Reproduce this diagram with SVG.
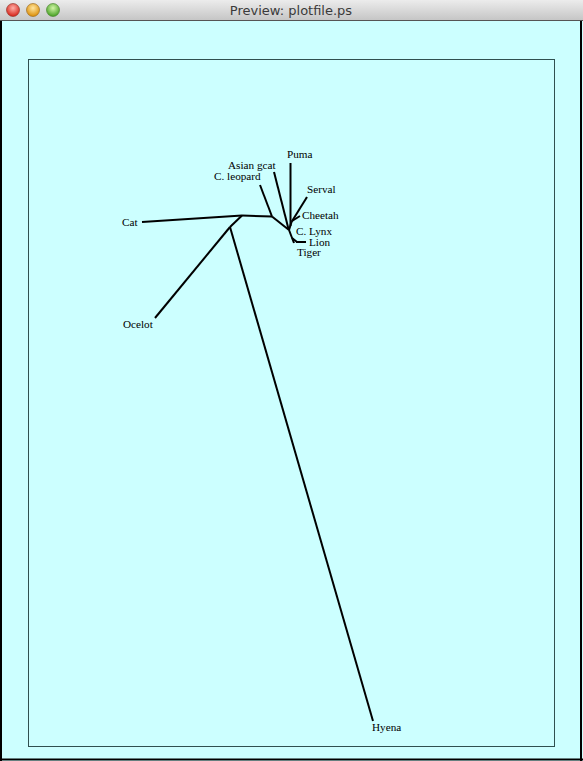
<svg xmlns="http://www.w3.org/2000/svg" width="583" height="761" viewBox="0 0 583 761">
<defs>
<linearGradient id="tb" x1="0" y1="0" x2="0" y2="1">
<stop offset="0" stop-color="#ececec"/>
<stop offset="1" stop-color="#c4c4c4"/>
</linearGradient>
<radialGradient id="red" cx="0.5" cy="0.35" r="0.6"><stop offset="0" stop-color="#ffb0a8"/><stop offset="1" stop-color="#d82a20"/></radialGradient>
<radialGradient id="yel" cx="0.5" cy="0.35" r="0.6"><stop offset="0" stop-color="#ffe6a0"/><stop offset="1" stop-color="#dd9310"/></radialGradient>
<radialGradient id="grn" cx="0.5" cy="0.35" r="0.6"><stop offset="0" stop-color="#d2f5a8"/><stop offset="1" stop-color="#4ea52a"/></radialGradient>
</defs>
<style>
.br{stroke:#000;stroke-width:2;fill:none;stroke-linecap:butt}
.lb{font-family:"Liberation Serif","Times New Roman",serif;font-size:11.2px;fill:#000}
.tt{font-family:"DejaVu Sans","Liberation Sans",sans-serif;font-size:13px;fill:#3a3a3a}
</style>
<rect x="0" y="0" width="583" height="761" fill="#ccffff"/>
<rect x="0" y="0" width="583" height="21" fill="url(#tb)"/>
<line x1="0" y1="20.5" x2="583" y2="20.5" stroke="#555" stroke-width="1"/>
<circle cx="13" cy="10" r="6.5" fill="url(#red)" stroke="#8a2a20" stroke-width="0.6"/>
<circle cx="33" cy="10" r="6.5" fill="url(#yel)" stroke="#946010" stroke-width="0.6"/>
<circle cx="53" cy="10" r="6.5" fill="url(#grn)" stroke="#3f7a25" stroke-width="0.6"/>
<text class="tt" x="291" y="15" text-anchor="middle">Preview: plotfile.ps</text>
<line x1="1" y1="21" x2="1" y2="761" stroke="#000" stroke-width="2"/>
<line x1="581" y1="21" x2="581" y2="761" stroke="#000" stroke-width="2"/>
<line x1="0" y1="759.5" x2="583" y2="759.5" stroke="#000" stroke-width="2"/>
<rect x="28.5" y="59.5" width="526" height="687" fill="none" stroke="#2f4f4f" stroke-width="1"/>

<g id="connectors">
<line class="br" x1="142" y1="222" x2="242" y2="215.5"/>
<line class="br" x1="242" y1="215.5" x2="272" y2="216.5"/>
<line class="br" x1="242" y1="215.5" x2="230" y2="227"/>
<line class="br" x1="230" y1="227" x2="155" y2="318"/>
<line class="br" x1="230" y1="227" x2="373" y2="721"/>
<line class="br" x1="272" y1="216.5" x2="260" y2="185"/>
<line class="br" x1="272" y1="216.5" x2="289" y2="230"/>
<line class="br" x1="274" y1="172" x2="288.5" y2="229"/>
<line class="br" x1="290.5" y1="163" x2="290.5" y2="226"/>
<line class="br" x1="289" y1="230" x2="291.5" y2="222"/>
<line class="br" x1="307" y1="197" x2="291.5" y2="222"/>
<line class="br" x1="300" y1="216" x2="292" y2="221"/>
<line class="br" x1="289" y1="230" x2="294" y2="243"/>
<line class="br" x1="292" y1="238" x2="297" y2="242"/>
<line class="br" x1="296" y1="242" x2="306" y2="242"/>
</g>

<g id="cat"><text class="lb" x="122" y="226">Cat</text></g>
<g id="ocelot"><text class="lb" x="123" y="328">Ocelot</text></g>
<g id="hyena"><text class="lb" x="372" y="731">Hyena</text></g>
<g id="c-leopard"><text class="lb" x="214" y="180">C. leopard</text></g>
<g id="asian-gcat"><text class="lb" x="228" y="169">Asian gcat</text></g>
<g id="puma"><text class="lb" x="287" y="158">Puma</text></g>
<g id="serval"><text class="lb" x="307" y="193">Serval</text></g>
<g id="cheetah"><text class="lb" x="302" y="219">Cheetah</text></g>
<g id="c-lynx"><text class="lb" x="296" y="234.5">C. Lynx</text></g>
<g id="lion"><text class="lb" x="309" y="245.5">Lion</text></g>
<g id="tiger"><text class="lb" x="297" y="256">Tiger</text></g>
</svg>
